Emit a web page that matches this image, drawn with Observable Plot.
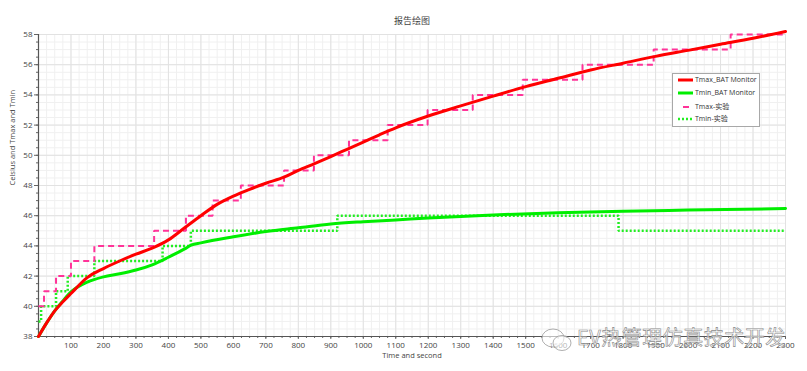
<!DOCTYPE html>
<html><head><meta charset="utf-8">
<script src="https://cdn.jsdelivr.net/npm/d3@7"></script>
<script src="https://cdn.jsdelivr.net/npm/@observablehq/plot@0.6"></script>
<style>
body{margin:0;background:#fff;font-family:"Open Sans","Noto Sans CJK SC",sans-serif;}
#wrap{position:relative;width:807px;height:371px;overflow:hidden;}
#legend{position:absolute;left:672px;top:73px;width:86px;height:52px;border:1px solid #a8a8a8;background:#fff;font-size:7px;color:#333;font-family:"Open Sans","Noto Sans CJK SC",sans-serif;}
#legend .row{position:absolute;left:0;height:10px;width:86px;}
#legend svg{position:absolute;left:3px;top:0;}
#legend span{position:absolute;left:22px;top:0;line-height:10px;white-space:nowrap;}
#wm{position:absolute;left:540px;top:322px;white-space:nowrap;font-family:"Noto Sans CJK SC",sans-serif;font-size:20px;color:rgba(255,255,255,0.7);-webkit-text-stroke:0.6px #8a8a8a;letter-spacing:0.5px;}
#wm svg{vertical-align:middle;margin-right:3px;}
</style></head>
<body><div id="wrap"></div>
<script>
// Monitor curves (time s, temperature °C)
const monTime = [0,25,50,75,100,150,200,250,300,350,400,450,500,550,600,650,700,756,800,850,900,950,1000,1050,1100,1200,1300,1400,1500,1600,1700,1800,1900,2000,2100,2200,2300];
const tmaxMon = [38.0,38.9,39.7,40.3,40.85,41.9,42.5,43.0,43.45,43.85,44.4,45.2,46.0,46.75,47.3,47.75,48.15,48.55,49.0,49.45,49.92,50.4,50.88,51.36,51.82,52.6,53.27,53.92,54.55,55.1,55.65,56.1,56.55,56.95,57.35,57.75,58.2];
const tminTime = [0,25,50,75,100,150,200,250,300,350,400,450,470,500,600,700,800,900,1000,1100,1200,1400,1600,1800,2000,2300];
const tminMon = [38.0,38.9,39.7,40.35,40.95,41.6,41.95,42.15,42.4,42.75,43.25,43.8,44.05,44.2,44.6,44.95,45.2,45.45,45.6,45.72,45.85,46.05,46.2,46.3,46.37,46.47];
// Experimental step data
const tmaxExpTime = [0,17,54,100,172,356,454,536,623,756,848,956,1075,1198,1337,1491,1675,1894,2131,2300];
const tmaxExp = [40,41,42,43,44,45,46,47,48,49,50,51,52,53,54,55,56,57,58,58];
const tminExpTime = [0,8,54,90,172,382,469,920,1786,2300];
const tminExp = [39,40,41,42,43,44,45,46,45,45];
const xTicks = [100,200,300,400,500,600,700,800,900,1000,1100,1200,1300,1400,1500,1600,1700,1800,1900,2000,2100,2200,2300];
const yTicks = [38,40,42,44,46,48,50,52,54,56,58];
const titleText = "报告绘图";
const xLabel = "Time and second";
const yLabel = "Celsius and Tmax and Tmin";
const seriesNames = ["Tmax_BAT Monitor","Tmin_BAT Monitor","Tmax-实验","Tmin-实验"];

const zip = (xs, ys) => xs.map((t,i) => ({t, v: ys[i]}));
const dMaxMon = zip(monTime, tmaxMon), dMinMon = zip(tminTime, tminMon);
const dMaxExp = zip(tmaxExpTime, tmaxExp), dMinExp = zip(tminExpTime, tminExp);
const xMinor = d3.range(0, 2301, 25);
const yMinor = d3.range(38, 58.01, 0.5);

const font = "'Open Sans','Noto Sans CJK SC',sans-serif";
const chart = Plot.plot({
  width: 807, height: 371,
  marginLeft: 38, marginRight: 22, marginTop: 34, marginBottom: 35,
  style: {fontFamily: font, fontSize: "8px", color: "#333", background: "#fff"},
  x: {domain: [0, 2300], label: null},
  y: {domain: [38, 58], label: null},
  marks: [
    Plot.ruleX(xMinor, {stroke: "#f0f0f0", strokeWidth: 1}),
    Plot.ruleY(yMinor, {stroke: "#f0f0f0", strokeWidth: 1}),
    Plot.ruleX(xTicks, {stroke: "#e2e2e2", strokeWidth: 1}),
    Plot.ruleY(yTicks, {stroke: "#e2e2e2", strokeWidth: 1}),
    Plot.axisX({ticks: xMinor, tickSize: 2, tickFormat: () => "", stroke: "#666", label: null}),
    Plot.axisX({ticks: xTicks, tickSize: 3, tickPadding: 3, tickFormat: d => String(d), stroke: "#666", fill: "#444", label: null}),
    Plot.axisY({ticks: yMinor, tickSize: 2, tickFormat: () => "", stroke: "#666", label: null}),
    Plot.axisY({ticks: yTicks, tickSize: 4, tickPadding: 2, tickFormat: d => String(d), stroke: "#666", fill: "#444", label: null}),
    Plot.ruleX([0], {stroke: "#555", strokeWidth: 1.2}),
    Plot.ruleY([38], {stroke: "#555", strokeWidth: 1.2}),
    Plot.line(dMinExp, {x: "t", y: "v", curve: "step-after", stroke: "#22ee22", strokeWidth: 2.5, strokeDasharray: "2,2", strokeLinecap: "butt", strokeLinejoin: "miter"}),
    Plot.line(dMaxExp, {x: "t", y: "v", curve: "step-after", stroke: "#ff3399", strokeWidth: 2, strokeDasharray: "6,4", strokeLinecap: "butt", strokeLinejoin: "miter"}),
    Plot.line(dMinMon, {x: "t", y: "v", curve: "monotone-x", stroke: "#00ee00", strokeWidth: 3}),
    Plot.line(dMaxMon, {x: "t", y: "v", curve: "monotone-x", stroke: "#ff0000", strokeWidth: 3}),
    Plot.text([titleText], {frameAnchor: "top", dy: -17, fontSize: 9, fill: "#444"}),
    Plot.text([xLabel], {frameAnchor: "bottom", dy: 21, fontSize: 7.5, fill: "#444"}),
    Plot.text([yLabel], {frameAnchor: "left", dx: -26, rotate: -90, fontSize: 7.5, fill: "#444"})
  ]
});
const wrap = document.getElementById("wrap");
wrap.appendChild(chart);

// Legend
const leg = document.createElement("div");
leg.id = "legend";
const styles = [
  {stroke: "#ff0000", w: 3, dash: "", x1: 2, x2: 17},
  {stroke: "#00ee00", w: 3, dash: "", x1: 2, x2: 17},
  {stroke: "#ff3399", w: 2, dash: "", x1: 7, x2: 13},
  {stroke: "#22ee22", w: 2.5, dash: "2,2", x1: 2, x2: 17}
];
const tops = [1, 14, 28, 40];
seriesNames.forEach((n, i) => {
  const s = styles[i];
  const row = document.createElement("div");
  row.className = "row"; row.style.top = tops[i] + "px";
  row.innerHTML = `<svg width="18" height="10"><line x1="${s.x1}" x2="${s.x2}" y1="5" y2="5" stroke="${s.stroke}" stroke-width="${s.w}" stroke-dasharray="${s.dash}"/></svg><span>${n}</span>`;
  leg.appendChild(row);
});
wrap.appendChild(leg);

// Watermark
const wm = document.createElement("div");
wm.id = "wm";
wm.innerHTML = `<svg width="34" height="26"><ellipse cx="13" cy="11" rx="11" ry="9" fill="rgba(255,255,255,0.6)" stroke="#999" stroke-width="0.8"/><ellipse cx="22" cy="16" rx="9" ry="7.5" fill="rgba(255,255,255,0.6)" stroke="#999" stroke-width="0.8"/></svg>EV热管理仿真技术开发`;
wrap.appendChild(wm);
</script>
</body></html>
